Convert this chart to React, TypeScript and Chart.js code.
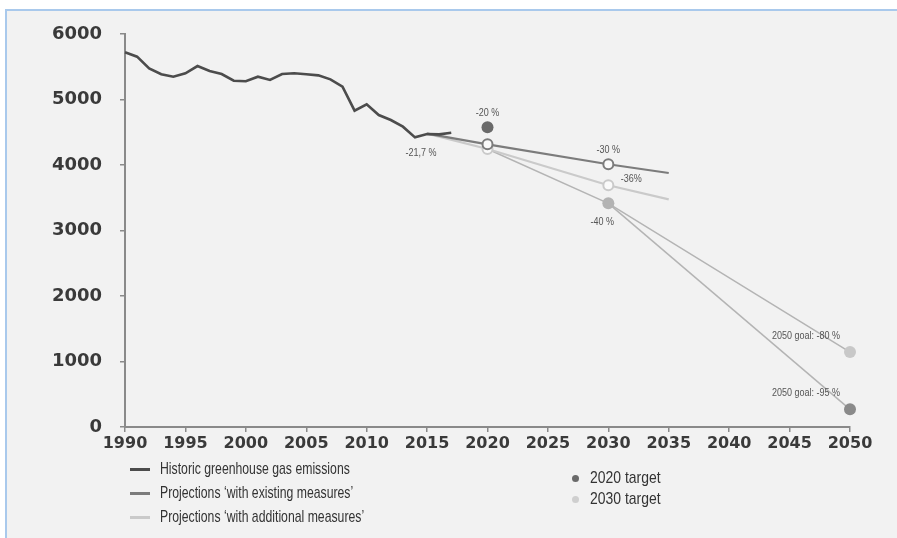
import React, { useEffect, useRef } from "react";
import { Chart, registerables } from "chart.js";

Chart.register(...registerables);

// ---- data ----
const historicYears = [1990, 1991, 1992, 1993, 1994, 1995, 1996, 1997, 1998, 1999, 2000, 2001, 2002, 2003, 2004, 2005, 2006, 2007, 2008, 2009, 2010, 2011, 2012, 2013, 2014, 2015, 2016, 2017];
const historicValues = [5720, 5654, 5476, 5385, 5348, 5400, 5511, 5435, 5389, 5287, 5278, 5348, 5298, 5389, 5400, 5385, 5369, 5308, 5196, 4829, 4927, 4763, 4687, 4585, 4422, 4473, 4468, 4493];

const projectionYears = [2015, 2020, 2030, 2035];
const existingValues = [4480, 4316, 4011, 3878];
const additionalValues = [4480, 4244, 3690, 3476];

const path80Years = [2020, 2030, 2050];
const path80Values = [4244, 3415, 1144];
const path95Years = [2030, 2050];
const path95Values = [3415, 270];

const target2020 = { year: 2020, value: 4576 };
const target2030 = { year: 2030, value: 3415 };
const goal80 = { year: 2050, value: 1144 };
const goal95 = { year: 2050, value: 270 };

const annotationTexts = ["-20 %", "-21,7 %", "-30 %", "-36%", "-40 %", "2050 goal: -80 %", "2050 goal: -95 %"];
const annotationYears = [2020, 2014, 2030, 2030, 2030, 2050, 2050];
const annotationValues = [4576, 4422, 4011, 3690, 3415, 1144, 270];

const xTickValues = [1990, 1995, 2000, 2005, 2010, 2015, 2020, 2025, 2030, 2035, 2040, 2045, 2050];
const yTickValues = [0, 1000, 2000, 3000, 4000, 5000, 6000];

const legendLines = ["Historic greenhouse gas emissions", "Projections ‘with existing measures’", "Projections ‘with additional measures’"];
const legendDots = ["2020 target", "2030 target"];

// ---- styles ----
const C_HIST = "#4c4c4c";
const C_WEM = "#7c7c7c";
const C_WAM = "#cacaca";
const C_PATH = "#b4b4b4";
const C_T2020 = "#6a6a6a";
const C_T2030 = "#b3b3b3";
const annotationOffsets = [
  [0, -14],
  [6, 16],
  [0, -14],
  [23, -6],
  [-6, 19],
  [-44, -16],
  [-44, -16],
];

const pts = (xs: number[], ys: number[]) => xs.map((x, i) => ({ x, y: ys[i] }));

const annotationPlugin = {
  id: "annotations",
  afterDatasetsDraw(chart: any) {
    const { ctx, scales } = chart;
    ctx.save();
    ctx.font = "10px 'Liberation Sans', sans-serif";
    ctx.fillStyle = "#555";
    ctx.textAlign = "center";
    ctx.textBaseline = "middle";
    annotationTexts.forEach((t, i) => {
      const px = scales.x.getPixelForValue(annotationYears[i]) + annotationOffsets[i][0];
      const py = scales.y.getPixelForValue(annotationValues[i]) + annotationOffsets[i][1];
      ctx.save();
      ctx.translate(px, py);
      ctx.scale(0.9, 1);
      ctx.fillText(t, 0, 0);
      ctx.restore();
    });
    ctx.restore();
  },
};

export default function App() {
  const ref = useRef<HTMLCanvasElement | null>(null);

  useEffect(() => {
    if (!ref.current) return;
    const chart = new Chart(ref.current, {
      type: "line",
      data: {
        datasets: [
          {
            label: "2020 target",
            data: [{ x: target2020.year, y: target2020.value }],
            showLine: false,
            pointRadius: 6,
            pointBackgroundColor: C_T2020,
            pointBorderWidth: 0,
            order: 0,
          },
          {
            label: "2030 target",
            data: [{ x: target2030.year, y: target2030.value }],
            showLine: false,
            pointRadius: 6,
            pointBackgroundColor: C_T2030,
            pointBorderWidth: 0,
            order: 0,
          },
          {
            label: "2050 goal -80",
            data: [{ x: goal80.year, y: goal80.value }],
            showLine: false,
            pointRadius: 6,
            pointBackgroundColor: "#c8c8c8",
            pointBorderWidth: 0,
            order: 0,
          },
          {
            label: "2050 goal -95",
            data: [{ x: goal95.year, y: goal95.value }],
            showLine: false,
            pointRadius: 6,
            pointBackgroundColor: "#8a8a8a",
            pointBorderWidth: 0,
            order: 0,
          },
          {
            label: legendLines[0],
            data: pts(historicYears, historicValues),
            borderColor: C_HIST,
            borderWidth: 2.6,
            pointRadius: 0,
            order: 1,
          },
          {
            label: legendLines[1],
            data: pts(projectionYears, existingValues),
            borderColor: C_WEM,
            borderWidth: 2.2,
            pointRadius: [0, 5, 5, 0],
            pointBackgroundColor: "#fafafa",
            pointBorderColor: C_WEM,
            pointBorderWidth: 2,
            order: 2,
          },
          {
            label: legendLines[2],
            data: pts(projectionYears, additionalValues),
            borderColor: C_WAM,
            borderWidth: 2.2,
            pointRadius: [0, 5, 5, 0],
            pointBackgroundColor: "#fafafa",
            pointBorderColor: C_WAM,
            pointBorderWidth: 2,
            order: 3,
          },
          {
            label: "path -80",
            data: pts(path80Years, path80Values),
            borderColor: C_PATH,
            borderWidth: 1.5,
            pointRadius: 0,
            order: 4,
          },
          {
            label: "path -95",
            data: pts(path95Years, path95Values),
            borderColor: C_PATH,
            borderWidth: 1.5,
            pointRadius: 0,
            order: 4,
          },
        ],
      },
      options: {
        animation: false,
        responsive: false,
        devicePixelRatio: 1,
        clip: false as any,
        layout: { padding: { top: 34, right: 47, left: 0, bottom: 0 } },
        plugins: { legend: { display: false }, tooltip: { enabled: false } },
        scales: {
          x: {
            type: "linear",
            min: 1990,
            max: 2050,
            afterFit: (s: any) => {
              s.height = 111;
            },
            afterBuildTicks: (s: any) => {
              s.ticks = xTickValues.map((v) => ({ value: v }));
            },
            ticks: {
              callback: (v: any) => String(v),
              color: "#3a3a3a",
              font: { family: "'DejaVu Sans'", size: 16, weight: "bold" },
              padding: 2,
              maxRotation: 0,
              autoSkip: false,
            },
            grid: { drawOnChartArea: false, drawTicks: true, tickLength: 5, color: "#8a8a8a", lineWidth: 1.5 },
            border: { display: true, color: "#8a8a8a", width: 2 },
          },
          y: {
            type: "linear",
            min: 0,
            max: 6000,
            afterFit: (s: any) => {
              s.width = 125;
            },
            afterBuildTicks: (s: any) => {
              s.ticks = yTickValues.map((v) => ({ value: v }));
            },
            ticks: {
              callback: (v: any) => String(v),
              color: "#3a3a3a",
              font: { family: "'DejaVu Sans'", size: 18, weight: "bold" },
              padding: 18,
            },
            grid: { drawOnChartArea: false, drawTicks: true, tickLength: 5, color: "#8a8a8a", lineWidth: 1.5 },
            border: { display: true, color: "#8a8a8a", width: 2 },
          },
        },
      },
      plugins: [annotationPlugin],
    });
    return () => chart.destroy();
  }, []);

  const legendFont = "'Liberation Sans', sans-serif";
  const lineColors = [C_HIST, C_WEM, C_WAM];
  const dotColors = [C_T2020, "#cfcfcf"];

  return (
    <div style={{ position: "fixed", left: 0, top: 0, width: 897, height: 538, background: "#fff", overflow: "hidden" }}>
      <div
        style={{
          position: "absolute",
          left: 0,
          top: -29,
          width: 880,
          textAlign: "right",
          font: "bold 24px 'Liberation Sans', sans-serif",
          color: "#000",
          whiteSpace: "nowrap",
        }}
      >
        Greenhouse gas emissions in Germany (million tonnes CO₂ equivalent)
      </div>
      <div
        style={{
          position: "absolute",
          left: 5,
          top: 9,
          right: 0,
          bottom: 0,
          background: "#f2f2f2",
          borderTop: "2px solid #a9c9ec",
          borderLeft: "2px solid #a9c9ec",
        }}
      />
      <canvas ref={ref} width={897} height={538} style={{ position: "absolute", left: 0, top: 0, width: 897, height: 538 }} />
      {legendLines.map((t, i) => (
        <div key={t} style={{ position: "absolute", left: 130, top: 459 + i * 24, height: 20, display: "flex", alignItems: "center" }}>
          <div style={{ width: 20, height: 3, background: lineColors[i], marginRight: 10, flex: "none" }} />
          <span
            style={{
              font: `17px ${legendFont}`,
              color: "#333",
              whiteSpace: "nowrap",
              display: "inline-block",
              transform: "scaleX(0.72)",
              transformOrigin: "left center",
            }}
          >
            {t}
          </span>
        </div>
      ))}
      {legendDots.map((t, i) => (
        <div key={t} style={{ position: "absolute", left: 572, top: 468 + i * 21, height: 20, display: "flex", alignItems: "center" }}>
          <div style={{ width: 7, height: 7, borderRadius: "50%", background: dotColors[i], marginRight: 11, flex: "none" }} />
          <span
            style={{
              font: `17px ${legendFont}`,
              color: "#333",
              whiteSpace: "nowrap",
              display: "inline-block",
              transform: "scaleX(0.82)",
              transformOrigin: "left center",
            }}
          >
            {t}
          </span>
        </div>
      ))}
    </div>
  );
}
